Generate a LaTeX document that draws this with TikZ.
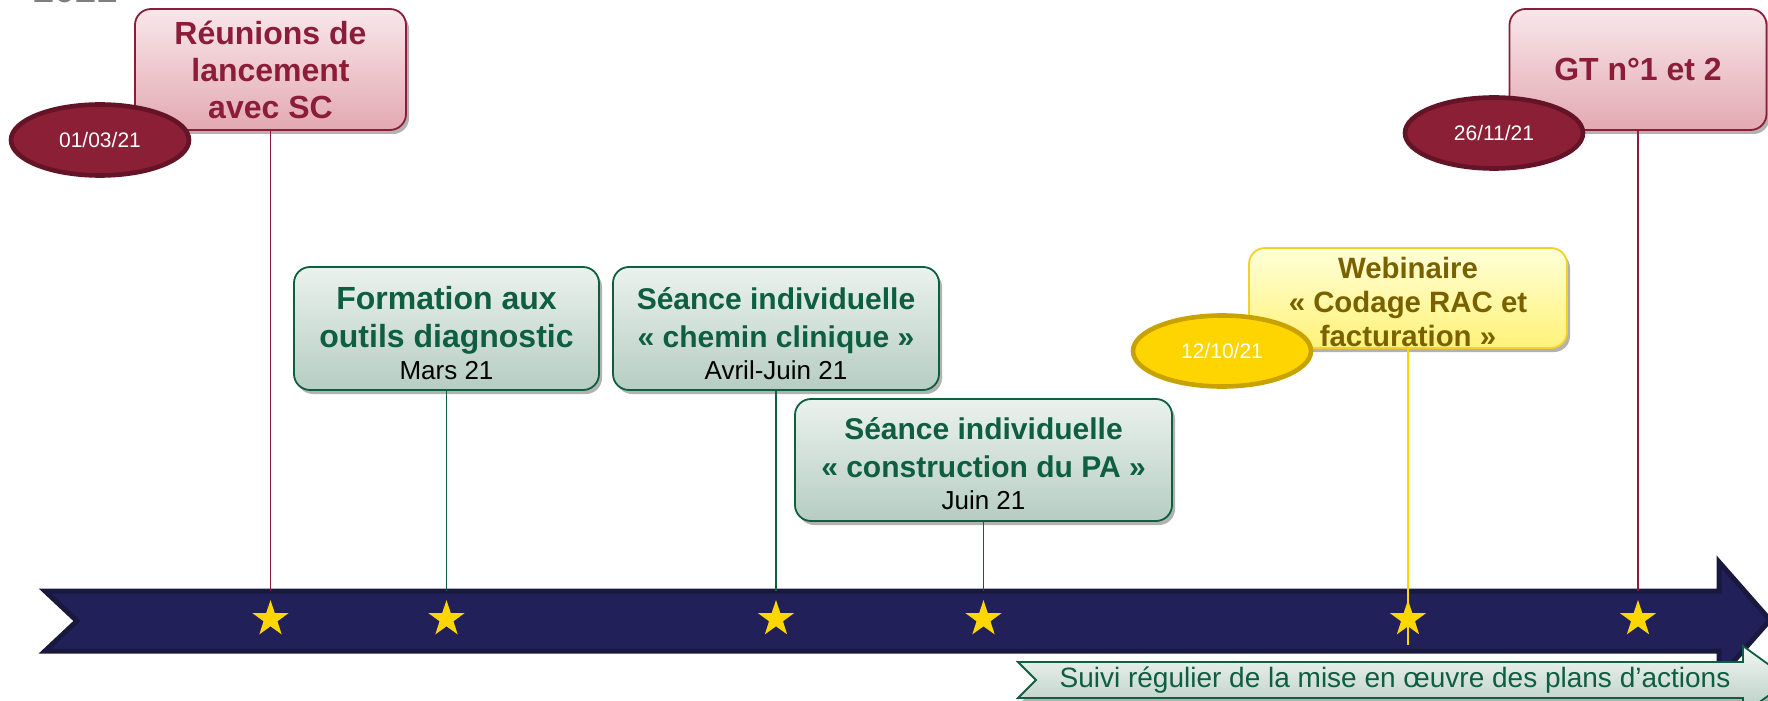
\documentclass[tikz,border=0pt]{standalone}
\usepackage{fontspec}
\setmainfont{Liberation Sans}
\usetikzlibrary{shapes.geometric,shadows}
\definecolor{redtxt}{HTML}{8B1D38}
\definecolor{redfillT}{HTML}{F8E7EA}
\definecolor{redfillB}{HTML}{E3A9B2}
\definecolor{redell}{HTML}{8A1F36}
\definecolor{redellB}{HTML}{651427}
\definecolor{grtxt}{HTML}{0E5E40}
\definecolor{grfillT}{HTML}{EBF2EE}
\definecolor{grfillB}{HTML}{B6CDC2}
\definecolor{yeltxt}{HTML}{7A6100}
\definecolor{yelfillT}{HTML}{FFFFD8}
\definecolor{yelfillB}{HTML}{FFF278}
\definecolor{yelborder}{HTML}{F5D02A}
\definecolor{yelell}{HTML}{FFD500}
\definecolor{yelellB}{HTML}{C7A200}
\definecolor{navy}{HTML}{222059}
\definecolor{navyB}{HTML}{19183F}
\definecolor{starY}{HTML}{FFD700}
\definecolor{titlegray}{HTML}{7F7F7F}
\newcommand\datetxt[1]{{\mdseries\fontsize{13}{15}\selectfont\color{black}#1}}
\newcommand\topstrut[1]{\rule{0pt}{#1}}
\begin{document}
\begin{tikzpicture}[x=0.5pt,y=-0.5pt,
  shad/.style={drop shadow={shadow xshift=1.5pt,shadow yshift=-2pt,opacity=0.3,fill=black}},
  redbox/.style={shad,draw=redtxt,line width=0.9pt,rounded corners=8pt,top color=redfillT,bottom color=redfillB,
    text=redtxt,font=\bfseries\fontsize{16}{18.5}\selectfont,align=center,inner sep=0pt},
  grbox/.style={shad,draw=grtxt,line width=0.9pt,rounded corners=8pt,top color=grfillT,bottom color=grfillB,
    text=grtxt,font=\bfseries\fontsize{15}{19}\selectfont,align=center,inner sep=0pt},
  yelbox/.style={shad,draw=yelborder,line width=0.9pt,rounded corners=8pt,top color=yelfillT,bottom color=yelfillB,
    text=yeltxt,font=\bfseries\fontsize{14.7}{17}\selectfont,align=center,inner sep=0pt},
  redoval/.style={ellipse,draw=redellB,line width=2.3pt,fill=redell,text=white,
    font=\fontsize{10.5}{12}\selectfont,minimum width=89pt,minimum height=35.5pt,inner sep=0pt},
  yeloval/.style={ellipse,draw=yelellB,line width=2.3pt,fill=yelell,text=white,
    font=\fontsize{10.5}{12}\selectfont,minimum width=89pt,minimum height=35.5pt,inner sep=0pt},
  redline/.style={draw=redtxt,line width=0.8pt},
  grline/.style={draw=grtxt,line width=0.8pt},
  yelline/.style={draw=yelell,line width=0.9pt},
  starnode/.style={star,star points=5,star point ratio=2.6,fill=starY,draw=none,inner sep=0pt,minimum size=19pt},
]
\useasboundingbox (0,0) rectangle (1768,701);

% year title (cut off at top)
\node[anchor=base west,font=\bfseries\fontsize{19}{23}\selectfont,text=titlegray,inner sep=0pt] (year) at (33,3) {2021};

% helper coordinates
\coordinate (axtop) at (0,591);
\coordinate (axmid) at (0,619);
\coordinate (ybot) at (0,645);

% timeline arrow
\draw[fill=navy,draw=navyB,line width=2.5pt,line join=miter]
  (45,591) -- (1719,591) -- (1719,562) -- (1770,620) -- (1719,678) -- (1719,651) -- (45,651) -- (77,621) -- cycle;

% boxes
\node[redbox,minimum width=135.5pt,minimum height=60.5pt] (reun) at (270.5,69.5) {Réunions de\\lancement\\avec SC};
\node[redbox,minimum width=128.5pt,minimum height=60.5pt] (gt) at (1638,69.5) {GT n°1 et 2};
\node[grbox,minimum width=152.5pt,minimum height=61.5pt] (form) at (446.5,328.5)
  {\fontsize{16}{19}\selectfont\topstrut{16pt}Formation aux\\\fontsize{16}{19}\selectfont outils diagnostic\\[-3pt]\datetxt{Mars 21}};
\node[grbox,minimum width=163pt,minimum height=61.5pt] (chem) at (776,328.5)
  {\topstrut{16pt}Séance individuelle\\«~chemin clinique~»\\[-3pt]\datetxt{Avril-Juin 21}};
\node[grbox,minimum width=188.5pt,minimum height=61pt] (cons) at (983.5,460)
  {\topstrut{15pt}Séance individuelle\\«~construction du PA~»\\[-3pt]\datetxt{Juin 21}};
\node[yelbox,minimum width=159pt,minimum height=50pt] (web) at (1408,298)
  {\topstrut{15pt}Webinaire\\«~Codage RAC et\\facturation~»};

% connectors
\draw[redline] (reun.south) -- (reun.south |- axtop);
\draw[redline] (gt.south) -- (gt.south |- axtop);
\draw[grline] (form.south) -- (form.south |- axtop);
\draw[grline] (chem.south) -- (chem.south |- axtop);
\draw[grline] (cons.south) -- (cons.south |- axtop);

% stars
\node[starnode] (s1) at (reun.south |- axmid) {};
\node[starnode] (s2) at (form.south |- axmid) {};
\node[starnode] (s3) at (chem.south |- axmid) {};
\node[starnode] (s4) at (cons.south |- axmid) {};
\node[starnode] (s5) at (web.south |- axmid) {};
\node[starnode] (s6) at (gt.south |- axmid) {};

\draw[yelline] (web.south) -- (web.south |- ybot);

% date ovals
\node[redoval] (d1) at (100,140) {01/03/21};
\node[redoval] (d2) at (1494,133) {26/11/21};
\node[yeloval] (d3) at (1222,351) {12/10/21};

% follow-up arrow
\draw[shad,draw=grtxt,line width=0.9pt,top color=grfillT!60!white,bottom color=grfillB]
  (1018,662) -- (1743,662) -- (1743,646) -- (1790,680) -- (1743,714) -- (1743,698) -- (1018,698) -- (1036,680) -- cycle;
\node[text=grtxt,font=\fontsize{14}{16}\selectfont,inner sep=0pt] (suivi) at (1395,680)
  {Suivi régulier de la mise en œuvre des plans d’actions};
\end{tikzpicture}
\end{document}
